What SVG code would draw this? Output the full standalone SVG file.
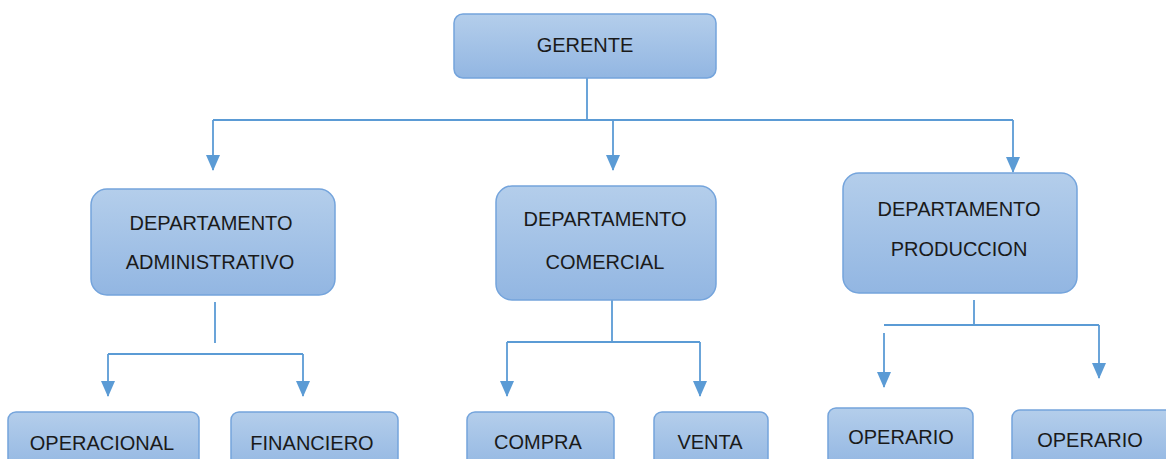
<svg xmlns="http://www.w3.org/2000/svg" width="1166" height="459" viewBox="0 0 1166 459">
<defs>
<linearGradient id="g" x1="0" y1="0" x2="0" y2="1">
<stop offset="0" stop-color="#b4ceeb"/>
<stop offset="1" stop-color="#92b6e2"/>
</linearGradient>
<marker id="ah" markerUnits="userSpaceOnUse" markerWidth="16" markerHeight="14" viewBox="0 0 16 14" refX="15" refY="7" orient="auto">
<path d="M0,0 L16,7 L0,14 Z" fill="#5b9bd5"/>
</marker>
<style>
.box{fill:url(#g);stroke:#74a4dc;stroke-width:1.5}
.t{font-family:"Liberation Sans",Arial,sans-serif;font-size:20px;fill:#1a1a1a;text-anchor:middle}
.c{fill:none;stroke:#5b9bd5;stroke-width:1.8}
</style>
</defs>
<rect width="1166" height="459" fill="#ffffff"/>
<g id="connectors">
<path class="c" d="M587,78 V120 M213,120 H1013"/>
<path class="c" d="M213,120 V170" marker-end="url(#ah)"/>
<path class="c" d="M613,120 V170" marker-end="url(#ah)"/>
<path class="c" d="M1013,120 V172" marker-end="url(#ah)"/>
<path class="c" d="M215,302 V343 M108,354 H303"/>
<path class="c" d="M108,354 V396" marker-end="url(#ah)"/>
<path class="c" d="M303,354 V396" marker-end="url(#ah)"/>
<path class="c" d="M612,300 V342 M507,342 H700"/>
<path class="c" d="M507,342 V396" marker-end="url(#ah)"/>
<path class="c" d="M700,342 V396" marker-end="url(#ah)"/>
<path class="c" d="M974,300 V325 M884,325 H1099"/>
<path class="c" d="M884,333 V387" marker-end="url(#ah)"/>
<path class="c" d="M1099,325 V378" marker-end="url(#ah)"/>
</g>
<g id="gerente">
<rect class="box" x="454" y="14" width="262" height="64" rx="9"/>
<text class="t" x="585" y="52">GERENTE</text>
</g>
<g id="dep-admin">
<rect class="box" x="91" y="189" width="244" height="106" rx="16"/>
<text class="t" x="211" y="230">DEPARTAMENTO</text>
<text class="t" x="210" y="269">ADMINISTRATIVO</text>
</g>
<g id="dep-comercial">
<rect class="box" x="496" y="186" width="220" height="114" rx="16"/>
<text class="t" x="605" y="226">DEPARTAMENTO</text>
<text class="t" x="605" y="269">COMERCIAL</text>
</g>
<g id="dep-produccion">
<rect class="box" x="843" y="173" width="234" height="120" rx="16"/>
<text class="t" x="959" y="216">DEPARTAMENTO</text>
<text class="t" x="959" y="256">PRODUCCION</text>
</g>
<g id="operacional">
<rect class="box" x="8" y="412" width="191" height="60" rx="8"/>
<text class="t" x="102" y="450">OPERACIONAL</text>
</g>
<g id="financiero">
<rect class="box" x="231" y="412" width="167" height="60" rx="8"/>
<text class="t" x="312" y="450">FINANCIERO</text>
</g>
<g id="compra">
<rect class="box" x="467" y="412" width="147" height="60" rx="8"/>
<text class="t" x="538" y="449">COMPRA</text>
</g>
<g id="venta">
<rect class="box" x="654" y="412" width="114" height="60" rx="8"/>
<text class="t" x="710" y="449">VENTA</text>
</g>
<g id="operario1">
<rect class="box" x="828" y="408" width="145" height="60" rx="8"/>
<text class="t" x="901" y="444">OPERARIO</text>
</g>
<g id="operario2">
<rect class="box" x="1012" y="410" width="170" height="60" rx="8"/>
<text class="t" x="1090" y="447">OPERARIO</text>
</g>
</svg>
